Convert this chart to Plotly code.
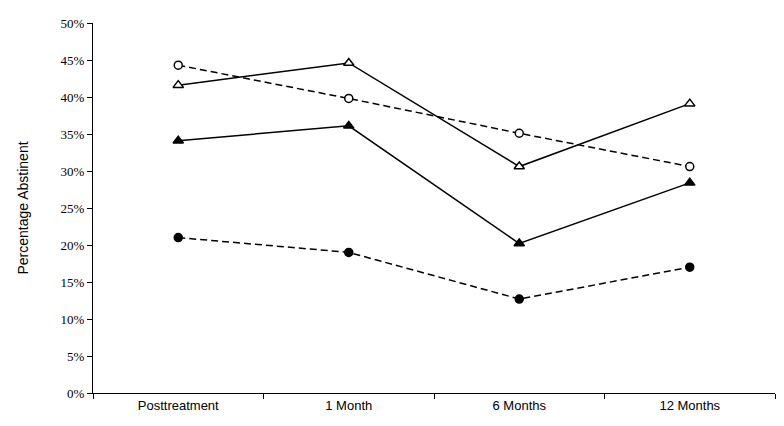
import plotly.graph_objects as go

categories = ["Posttreatment", "1 Month", "6 Months", "12 Months"]
open_circle = [44.3, 39.8, 35.1, 30.6]
open_triangle = [41.6, 44.6, 30.6, 39.1]
filled_triangle = [34.1, 36.1, 20.2, 28.4]
filled_circle = [21.0, 19.0, 12.7, 17.0]
y_ticks = [0, 5, 10, 15, 20, 25, 30, 35, 40, 45, 50]
y_tick_labels = [f"{v}%" for v in y_ticks]

fig = go.Figure()

def add(vals, symbol, fill, dash, size):
    fig.add_trace(go.Scatter(
        x=categories, y=vals, mode="lines+markers",
        line=dict(color="black", width=1.5, dash=dash),
        marker=dict(symbol=symbol, size=size, color=fill,
                    line=dict(color="black", width=1.5)),
        showlegend=False))

add(open_circle, "circle", "white", "7px,4px", 8)
add(open_triangle, "triangle-up", "white", "solid", 9)
add(filled_triangle, "triangle-up", "black", "solid", 9)
add(filled_circle, "circle", "black", "7px,4px", 8)

# page body has an 8px margin, so the figure is sized to compensate
fig.update_layout(
    width=776, height=418,
    margin=dict(l=85, r=9, t=8, b=33),
    paper_bgcolor="white", plot_bgcolor="white",
)
fig.update_xaxes(
    type="category", range=[-0.5, 3.5], showline=True, linecolor="black", linewidth=1.2,
    ticks="outside", tickson="boundaries", ticklen=5, tickcolor="black", showgrid=False,
    tickfont=dict(family="Liberation Sans, Arial", size=13, color="black"),
)
fig.update_yaxes(
    range=[0, 50], tickvals=y_ticks, ticktext=y_tick_labels, showline=True, linecolor="black",
    linewidth=1.2, ticks="outside", ticklen=5, tickcolor="black", showgrid=False, zeroline=False,
    tickfont=dict(family="Liberation Serif, Times New Roman", size=13, color="black"),
    title=dict(text="Percentage Abstinent", standoff=28,
               font=dict(family="Liberation Sans, Arial", size=14, color="black")),
)

fig.write_html("out.html")
